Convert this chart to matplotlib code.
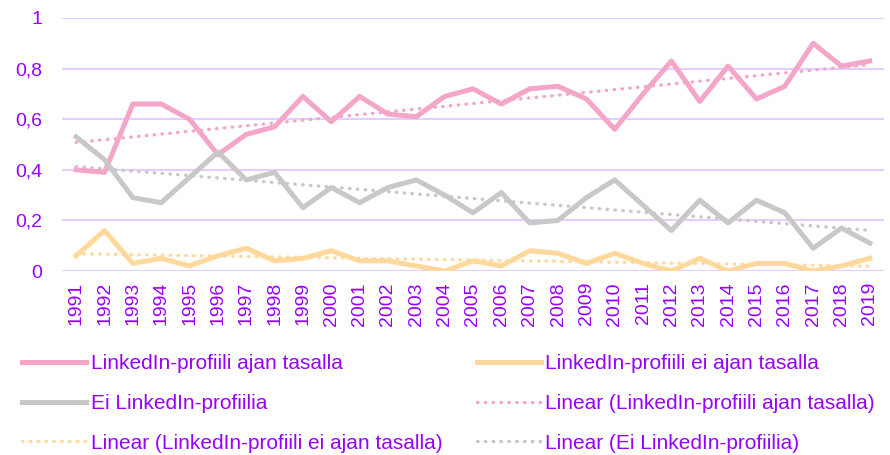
import numpy as np
import matplotlib.pyplot as plt

plt.rcParams['font.family'] = ['Liberation Sans', 'DejaVu Sans']

years = [str(y) for y in range(1991, 2020)]

ajan_tasalla = [0.40, 0.39, 0.66, 0.66, 0.60, 0.46, 0.54, 0.57, 0.69, 0.59,
                0.69, 0.62, 0.61, 0.69, 0.72, 0.66, 0.72, 0.73, 0.68, 0.56,
                0.70, 0.83, 0.67, 0.81, 0.68, 0.73, 0.90, 0.81, 0.83]
ei_ajan_tasalla = [0.06, 0.16, 0.03, 0.05, 0.02, 0.06, 0.09, 0.04, 0.05, 0.08,
                   0.04, 0.04, 0.02, 0.00, 0.04, 0.02, 0.08, 0.07, 0.03, 0.07,
                   0.03, 0.00, 0.05, 0.00, 0.03, 0.03, 0.00, 0.02, 0.05]
ei_profiilia = [0.53, 0.44, 0.29, 0.27, 0.37, 0.47, 0.36, 0.39, 0.25, 0.33,
                0.27, 0.33, 0.36, 0.30, 0.23, 0.31, 0.19, 0.20, 0.29, 0.36,
                0.26, 0.16, 0.28, 0.19, 0.28, 0.23, 0.09, 0.17, 0.11]

yticks = [0, 0.2, 0.4, 0.6, 0.8, 1]
ytick_labels = ['0', '0,2', '0,4', '0,6', '0,8', '1']

pink = '#F4A6C8'
orange = '#FFD89C'
gray = '#C8C8C8'
purple = '#9900FF'
grid = '#E6CCFF'

fig = plt.figure(figsize=(8.9, 4.55), dpi=100)
ax = fig.add_axes([62/890, 1-271/455, (884-62)/890, 253/455])

x = np.arange(len(years))
dot = (0, (0.15, 2.2))

def trend(vals):
    k, b = np.polyfit(x, vals, 1)
    return k * x + b

l1, = ax.plot(x, ajan_tasalla, color=pink, lw=3.6, solid_joinstyle='round', zorder=3)
l2, = ax.plot(x, ei_ajan_tasalla, color=orange, lw=3.6, solid_joinstyle='round', zorder=3)
l3, = ax.plot(x, ei_profiilia, color=gray, lw=3.6, solid_joinstyle='round', zorder=3)
t1, = ax.plot(x, trend(ajan_tasalla), color=pink, lw=2.4, linestyle=dot, dash_capstyle='round', zorder=2)
t2, = ax.plot(x, trend(ei_ajan_tasalla), color=orange, lw=2.4, linestyle=dot, dash_capstyle='round', zorder=2)
t3, = ax.plot(x, trend(ei_profiilia), color=gray, lw=2.4, linestyle=dot, dash_capstyle='round', zorder=2)

ax.set_xlim(-0.5, len(years) - 0.5)
ax.set_ylim(0, 1)
ax.set_yticks(yticks)
ax.set_yticklabels(ytick_labels)
ax.set_xticks(x)
ax.set_xticklabels(years, rotation=90)
ax.tick_params(length=0, labelsize=14, labelcolor=purple)
ax.tick_params(axis='y', pad=14)
ax.tick_params(axis='x', pad=8)
for s in ax.spines.values():
    s.set_visible(False)
ax.yaxis.grid(True, color=grid, lw=1.5)
ax.set_axisbelow(True)

handles = [l1, l3, t2, l2, t1, t3]
labels = ['LinkedIn-profiili ajan tasalla', 'Ei LinkedIn-profiilia',
          'Linear (LinkedIn-profiili ei ajan tasalla)',
          'LinkedIn-profiili ei ajan tasalla',
          'Linear (LinkedIn-profiili ajan tasalla)',
          'Linear (Ei LinkedIn-profiilia)']
fig.legend(handles, labels, ncol=2, loc='upper left', bbox_to_anchor=(0.0245, 0.222),
           frameon=False, fontsize=15, labelcolor=purple, handlelength=3.1,
           handletextpad=0.2, columnspacing=1.65, labelspacing=1.0,
           borderaxespad=0, borderpad=0)

fig.savefig('out.png', dpi=100)
